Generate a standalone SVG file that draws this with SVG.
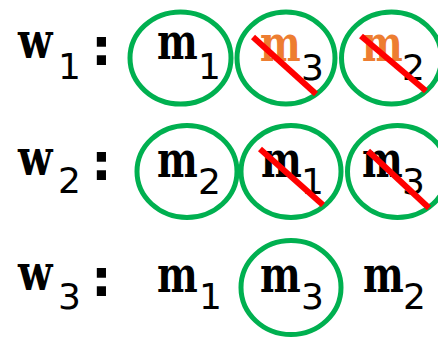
<svg xmlns="http://www.w3.org/2000/svg" width="438" height="338" viewBox="0 0 438 338">
<style>
.v{font-family:"DejaVu Serif","Liberation Serif",serif;font-weight:bold;font-size:50px;fill:#000}
.o{fill:#ED7D31}
.s{font-family:"DejaVu Sans",Verdana,sans-serif;font-size:36px;fill:#000}
.c{font-family:"DejaVu Sans",Verdana,sans-serif;font-weight:bold;font-size:52px;fill:#000}
.ring{fill:none;stroke:#00B050;stroke-width:5}
.x{stroke:#FF0000;stroke-width:6;stroke-linecap:butt}
</style>
<rect width="438" height="338" fill="#fff"/>
<g id="row1">
  <g id="w1"><text class="v" transform="translate(18 57.5) scale(0.8 1)">w</text><text class="s" x="58" y="79">1</text><text class="c" x="101.5" y="65" text-anchor="middle">:</text></g>
  <g id="w1-m1"><ellipse class="ring" cx="180.5" cy="58" rx="50.5" ry="46"/><text class="v" transform="translate(157 58.5) scale(0.77 1)">m</text><text class="s" x="198" y="79">1</text></g>
  <g id="w1-m3"><ellipse class="ring" cx="286" cy="58" rx="49" ry="46"/><text class="v o" transform="translate(260 61) scale(0.77 1)">m</text><text class="s o" x="301" y="80">3</text><line class="x" x1="253" y1="37" x2="316" y2="94"/></g>
  <g id="w1-m2"><ellipse class="ring" cx="391.5" cy="58" rx="50" ry="46"/><text class="v o" transform="translate(362 61) scale(0.77 1)">m</text><text class="s o" x="402" y="80">2</text><line class="x" x1="361" y1="36" x2="426" y2="91"/></g>
</g>
<g id="row2">
  <g id="w2"><text class="v" transform="translate(18 175) scale(0.8 1)">w</text><text class="s" x="58" y="193">2</text><text class="c" x="101.5" y="180" text-anchor="middle">:</text></g>
  <g id="w2-m2"><ellipse class="ring" cx="187" cy="171.5" rx="50" ry="46"/><text class="v" transform="translate(157 176.5) scale(0.77 1)">m</text><text class="s" x="198" y="194">2</text></g>
  <g id="w2-m1"><ellipse class="ring" cx="291" cy="171.5" rx="50" ry="46"/><text class="v" transform="translate(261 176.5) scale(0.77 1)">m</text><text class="s" x="301" y="194">1</text><line class="x" x1="260" y1="149" x2="323" y2="205"/></g>
  <g id="w2-m3"><ellipse class="ring" cx="397.5" cy="171.5" rx="50" ry="46"/><text class="v" transform="translate(362 176.5) scale(0.77 1)">m</text><text class="s" x="402" y="194">3</text><line class="x" x1="368" y1="151" x2="429" y2="208"/></g>
</g>
<g id="row3">
  <g id="w3"><text class="v" transform="translate(18 290) scale(0.8 1)">w</text><text class="s" x="58" y="309">3</text><text class="c" x="101.5" y="296" text-anchor="middle">:</text></g>
  <g id="w3-m1"><text class="v" transform="translate(157 292) scale(0.77 1)">m</text><text class="s" x="199" y="309">1</text></g>
  <g id="w3-m3"><ellipse class="ring" cx="291" cy="287.5" rx="50" ry="47"/><text class="v" transform="translate(260 292) scale(0.77 1)">m</text><text class="s" x="301" y="309">3</text></g>
  <g id="w3-m2"><text class="v" transform="translate(363 292) scale(0.77 1)">m</text><text class="s" x="403" y="309">2</text></g>
</g>
<g id="connectors"/>
</svg>
